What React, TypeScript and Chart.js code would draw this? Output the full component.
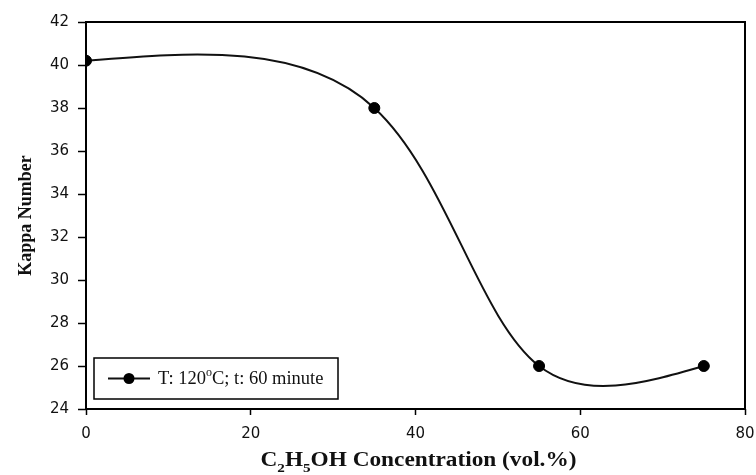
import React, { useEffect, useRef } from "react";
import { Chart, registerables } from "chart.js";

Chart.register(...registerables);

// Ethanol concentration (vol.%) and the measured kappa number
const concentration = [0, 35, 55, 75];
const kappaNumber = [40.2, 38, 26, 26];

const xTicks = [0, 20, 40, 60, 80];
const yTicks = [24, 26, 28, 30, 32, 34, 36, 38, 40, 42];

const yTitle = "Kappa Number";
// [text, role] pieces of the x-axis title; "sub" pieces are drawn as subscripts
const xTitleParts: [string, string][] = [
  ["C", ""],
  ["2", "sub"],
  ["H", ""],
  ["5", "sub"],
  ["OH Concentration (vol.%)", ""],
];
// [text, role] pieces of the series label; "sup" pieces are drawn as superscripts
const seriesLabelParts: [string, string][] = [
  ["T: 120", ""],
  ["o", "sup"],
  ["C; t: 60 minute", ""],
];

const SERIF = "'Liberation Serif', 'Times New Roman', serif";
const SANS = "'DejaVu Sans', sans-serif";

// Second derivatives of a natural cubic spline through (t, v)
function naturalSpline(t: number[], v: number[]): number[] {
  const n = t.length;
  const M = new Array(n).fill(0);
  if (n < 3) return M;
  const a: number[] = [], b: number[] = [], c: number[] = [], d: number[] = [];
  for (let i = 1; i < n - 1; i++) {
    const h0 = t[i] - t[i - 1];
    const h1 = t[i + 1] - t[i];
    a.push(h0);
    b.push(2 * (h0 + h1));
    c.push(h1);
    d.push(6 * ((v[i + 1] - v[i]) / h1 - (v[i] - v[i - 1]) / h0));
  }
  const m = b.length;
  const cp = new Array(m), dp = new Array(m);
  cp[0] = c[0] / b[0];
  dp[0] = d[0] / b[0];
  for (let i = 1; i < m; i++) {
    const den = b[i] - a[i] * cp[i - 1];
    cp[i] = c[i] / den;
    dp[i] = (d[i] - a[i] * dp[i - 1]) / den;
  }
  const sol = new Array(m);
  sol[m - 1] = dp[m - 1];
  for (let i = m - 2; i >= 0; i--) sol[i] = dp[i] - cp[i] * sol[i + 1];
  for (let i = 0; i < m; i++) M[i + 1] = sol[i];
  return M;
}

// Draws pieces of text with sub/superscripts, returns total width
function drawRich(
  ctx: CanvasRenderingContext2D,
  parts: [string, string][],
  x: number,
  y: number,
  font: (size: number) => string,
  size: number,
  measureOnly = false
): number {
  let cx = x;
  for (const [txt, role] of parts) {
    const s = role ? Math.round(size * 0.65) : size;
    ctx.font = font(s);
    const dy = role === "sub" ? size * 0.28 : role === "sup" ? -size * 0.38 : 0;
    if (!measureOnly) ctx.fillText(txt, cx, y + dy);
    cx += ctx.measureText(txt).width;
  }
  return cx - x;
}

const decorPlugin = {
  id: "decor",
  beforeDraw(chart: any) {
    const { ctx, width, height } = chart;
    ctx.save();
    ctx.fillStyle = "#ffffff";
    ctx.fillRect(0, 0, width, height);
    ctx.restore();
  },
  beforeDatasetsDraw(chart: any) {
    const { ctx, chartArea: ca } = chart;
    ctx.save();
    // plot frame
    ctx.strokeStyle = "#000";
    ctx.lineWidth = 2;
    ctx.strokeRect(ca.left, ca.top, ca.right - ca.left, ca.bottom - ca.top);

    // smooth curve through the data points (centripetal parametric natural spline)
    const pts = chart.getDatasetMeta(0).data.map((p: any) => ({ x: p.x, y: p.y }));
    const t = [0];
    for (let i = 1; i < pts.length; i++) {
      const dist = Math.hypot(pts[i].x - pts[i - 1].x, pts[i].y - pts[i - 1].y);
      t.push(t[i - 1] + Math.sqrt(dist));
    }
    const Mx = naturalSpline(t, pts.map((p: any) => p.x));
    const My = naturalSpline(t, pts.map((p: any) => p.y));
    ctx.beginPath();
    ctx.moveTo(pts[0].x, pts[0].y);
    for (let i = 0; i < pts.length - 1; i++) {
      const h = t[i + 1] - t[i];
      const p0 = pts[i], p1 = pts[i + 1];
      const dsx = (p1.x - p0.x) / h - (h * (2 * Mx[i] + Mx[i + 1])) / 6;
      const dsy = (p1.y - p0.y) / h - (h * (2 * My[i] + My[i + 1])) / 6;
      const dex = (p1.x - p0.x) / h + (h * (Mx[i] + 2 * Mx[i + 1])) / 6;
      const dey = (p1.y - p0.y) / h + (h * (My[i] + 2 * My[i + 1])) / 6;
      ctx.bezierCurveTo(
        p0.x + (dsx * h) / 3,
        p0.y + (dsy * h) / 3,
        p1.x - (dex * h) / 3,
        p1.y - (dey * h) / 3,
        p1.x,
        p1.y
      );
    }
    ctx.strokeStyle = "#111";
    ctx.lineWidth = 2;
    ctx.lineJoin = "round";
    ctx.stroke();
    ctx.restore();
  },
  afterDraw(chart: any) {
    const { ctx, chartArea: ca } = chart;
    ctx.save();
    ctx.fillStyle = "#111";
    ctx.textBaseline = "alphabetic";

    // y-axis title
    ctx.save();
    ctx.translate(31, (ca.top + ca.bottom) / 2);
    ctx.rotate(-Math.PI / 2);
    ctx.font = `bold 18px ${SERIF}`;
    ctx.textAlign = "center";
    ctx.fillText(yTitle, 0, 0);
    ctx.restore();

    // x-axis title
    ctx.textAlign = "left";
    const boldSerif = (s: number) => `bold ${s}px ${SERIF}`;
    const w = drawRich(ctx, xTitleParts, 0, 0, boldSerif, 20, true);
    const sx = 316 / w;
    ctx.save();
    ctx.translate((ca.left + ca.right) / 2 + 3 - (w * sx) / 2, 466);
    ctx.scale(sx, 1);
    drawRich(ctx, xTitleParts, 0, 0, boldSerif, 20);
    ctx.restore();

    // legend box
    const bx = ca.left + 8, by = ca.bottom - 51, bw = 244, bh = 41;
    ctx.strokeStyle = "#000";
    ctx.lineWidth = 1.5;
    ctx.strokeRect(bx, by, bw, bh);
    const ly = by + bh / 2;
    ctx.beginPath();
    ctx.moveTo(bx + 14, ly);
    ctx.lineTo(bx + 56, ly);
    ctx.lineWidth = 2;
    ctx.strokeStyle = "#111";
    ctx.stroke();
    ctx.beginPath();
    ctx.arc(bx + 35, ly, 5.5, 0, Math.PI * 2);
    ctx.fillStyle = "#000";
    ctx.fill();
    ctx.fillStyle = "#111";
    drawRich(ctx, seriesLabelParts, bx + 64, ly + 5, (s) => `${s}px ${SERIF}`, 18.5);
    ctx.restore();
  },
};

export default function App() {
  const canvasRef = useRef<HTMLCanvasElement | null>(null);

  useEffect(() => {
    if (!canvasRef.current) return;
    const chart = new Chart(canvasRef.current, {
      type: "scatter",
      data: {
        datasets: [
          {
            label: "T: 120°C; t: 60 minute",
            data: concentration.map((x, i) => ({ x, y: kappaNumber[i] })),
            showLine: false,
            pointRadius: 5.5,
            pointBackgroundColor: "#000",
            pointBorderColor: "#000",
            pointBorderWidth: 1,
          },
        ],
      },
      options: {
        animation: false,
        responsive: false,
        devicePixelRatio: 1,
        events: [],
        layout: { padding: { top: 22, right: 11, left: 0, bottom: 0 } },
        plugins: {
          legend: { display: false },
          tooltip: { enabled: false },
        },
        scales: {
          x: {
            type: "linear",
            min: 0,
            max: 80,
            afterBuildTicks: (s: any) => {
              s.ticks = xTicks.map((v) => ({ value: v }));
            },
            afterFit: (s: any) => {
              s.height = 66;
              s.paddingLeft = 0;
              s.paddingRight = 0;
            },
            grid: {
              drawOnChartArea: false,
              drawTicks: true,
              tickLength: 6,
              tickWidth: 1.5,
              tickColor: "#000",
            },
            border: { display: false },
            ticks: {
              font: { family: SANS, size: 15 },
              color: "#111",
              padding: 10,
              maxRotation: 0,
            },
          },
          y: {
            type: "linear",
            min: 24,
            max: 42,
            afterBuildTicks: (s: any) => {
              s.ticks = yTicks.map((v) => ({ value: v }));
            },
            afterFit: (s: any) => {
              s.width = 86;
              s.paddingTop = 0;
              s.paddingBottom = 0;
            },
            grid: {
              drawOnChartArea: false,
              drawTicks: true,
              tickLength: 8,
              tickWidth: 1.5,
              tickColor: "#000",
            },
            border: { display: false },
            ticks: {
              font: { family: SANS, size: 15 },
              color: "#111",
              padding: 9,
            },
          },
        },
      },
      plugins: [decorPlugin],
    } as any);
    return () => chart.destroy();
  }, []);

  return (
    <div style={{ position: "fixed", left: 0, top: 0, width: 756, height: 475, background: "#fff" }}>
      <canvas ref={canvasRef} width={756} height={475} style={{ display: "block" }} />
    </div>
  );
}
